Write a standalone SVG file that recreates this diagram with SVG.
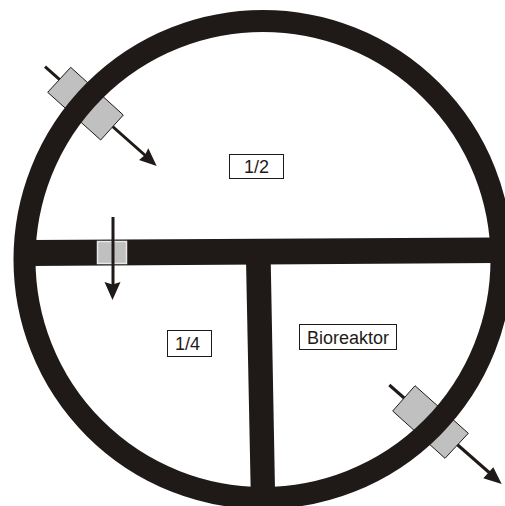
<svg xmlns="http://www.w3.org/2000/svg" width="505" height="506" viewBox="0 0 505 506">
<style>
.wall{fill:#1f1a17}
.ring{fill:none;stroke:#1f1a17;stroke-width:22}
.valve{fill:#c0c0c0;stroke:#1f1a17;stroke-width:1}
.shaft{fill:none;stroke:#1f1a17;stroke-width:3}
.head{fill:#1f1a17}
.box{fill:#fff;stroke:#1f1a17;stroke-width:1}
.lbl{font-family:"Liberation Sans",Arial,sans-serif;font-size:18px;fill:#1f1a17;text-anchor:middle}
</style>
<rect width="505" height="506" fill="#fff"/>
<g id="connectors">
<path class="shaft" d="M45 66.700L147 157"/>
<path class="head" d="M156.700 166L139 160L145 155L148.300 148.300Z"/>
<path class="shaft" d="M389.300 385L492 475"/>
<path class="head" d="M501.700 484L483.300 478.300L489 472L493.300 467.300Z"/>
</g>
<g id="valve-top">
<path class="valve" d="M70.700 67.300L47.700 92.300L100.700 140L123.300 115Z"/>
</g>
<g id="valve-right">
<path class="valve" d="M415 385.700L392.700 411L445 458.300L468.300 433.300Z"/>
</g>
<g id="reactor">
<circle class="ring" cx="263" cy="259.500" r="238.500"/>
<path class="wall" d="M30 240L495 237.500V263L30 266Z"/>
<path class="wall" d="M246 260H270.700L275 490H250.700Z"/>
</g>
<g id="valve-middle">
<rect x="97.500" y="241.500" width="29" height="22" fill="#c0c0c0" stroke="#e8e8e8" stroke-width="1.500"/>
<path class="shaft" d="M113 217V286"/>
<path class="head" d="M112.500 300L104.500 282L112.500 284.500L120.500 282Z"/>
</g>
<g id="label-half">
<rect class="box" x="229.500" y="154.500" width="54" height="24"/>
<text class="lbl" x="256.500" y="173">1/2</text>
</g>
<g id="label-quarter">
<rect class="box" x="167.500" y="330.500" width="44" height="26"/>
<text class="lbl" x="187.500" y="349.500">1/4</text>
</g>
<g id="label-bioreaktor">
<rect class="box" x="299.500" y="324.500" width="97" height="25"/>
<text class="lbl" x="348" y="344">Bioreaktor</text>
</g>
</svg>
